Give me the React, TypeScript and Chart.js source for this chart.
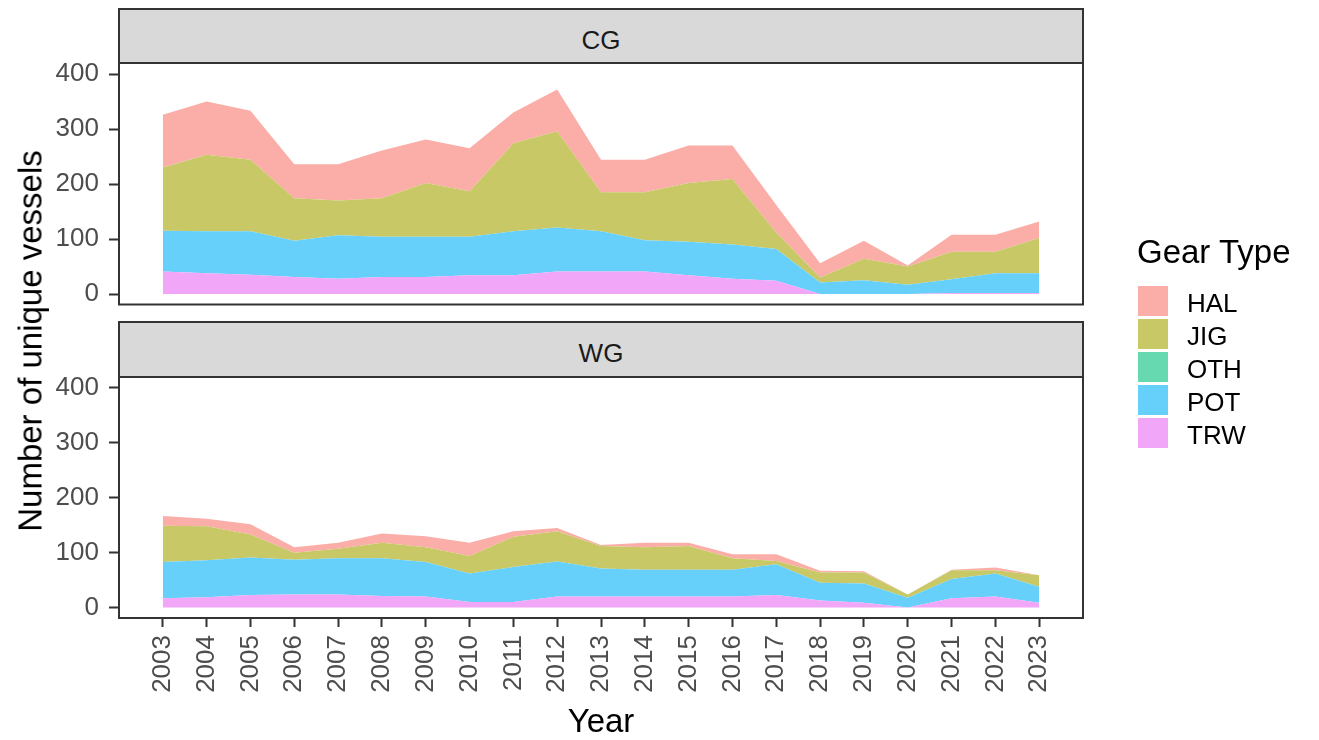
import React, { useEffect, useRef } from "react";
import { Chart, registerables } from "chart.js";

Chart.register(...registerables);

// ---------- data ----------
const years = [2003, 2004, 2005, 2006, 2007, 2008, 2009, 2010, 2011, 2012, 2013, 2014, 2015, 2016, 2017, 2018, 2019, 2020, 2021, 2022, 2023];
const yTicks = [0, 100, 200, 300, 400];

const gearTypes = ["HAL", "JIG", "OTH", "POT", "TRW"];
const gearColors = ["#FBADA7", "#C8C966", "#66D9B1", "#66D0FA", "#F1A6F8"];

// CG (Central Gulf)
const cgTRW = [41, 38, 35, 31, 28, 31, 31, 34, 34, 41, 41, 41, 34, 28, 24, 0, 0, 0, 2, 2, 2];
const cgPOT = [74, 76, 79, 66, 79, 73, 73, 70, 80, 80, 73, 57, 61, 62, 58, 21, 25, 17, 25, 36, 36];
const cgOTH = [0, 0, 0, 0, 0, 0, 0, 0, 0, 0, 0, 0, 0, 0, 0, 0, 0, 0, 0, 0, 0];
const cgJIG = [115, 139, 130, 77, 63, 70, 98, 83, 160, 175, 71, 87, 107, 119, 30, 9, 39, 33, 50, 39, 64];
const cgHAL = [96, 97, 89, 62, 66, 87, 79, 78, 56, 76, 59, 59, 68, 61, 50, 26, 33, 2, 31, 31, 30];

// WG (Western Gulf)
const wgTRW = [17, 19, 23, 24, 24, 21, 20, 10, 10, 20, 20, 20, 20, 20, 23, 13, 9, 0, 17, 20, 9];
const wgPOT = [66, 67, 68, 63, 66, 69, 63, 52, 64, 64, 51, 49, 49, 49, 56, 32, 35, 18, 35, 42, 29];
const wgOTH = [0, 0, 0, 0, 0, 0, 0, 0, 0, 0, 0, 0, 0, 0, 0, 0, 0, 0, 0, 0, 0];
const wgJIG = [66, 62, 42, 13, 17, 28, 27, 32, 55, 55, 41, 41, 43, 21, 6, 19, 20, 6, 16, 6, 21];
const wgHAL = [18, 14, 19, 10, 11, 17, 20, 24, 10, 6, 2, 8, 6, 7, 12, 3, 2, 0, 1, 5, 0];

const FONT = "'Liberation Sans', Arial, Helvetica, sans-serif";
const W = 1319;
const H = 740;
const PANEL_LEFT = 119;
const PANEL_RIGHT = 1083;

type SeriesMap = { [k: string]: number[] };

const panelBorder = {
  id: "panelBorder",
  afterDraw(chart: any) {
    const { ctx, chartArea: a } = chart;
    ctx.save();
    ctx.strokeStyle = "#333333";
    ctx.lineWidth = 2;
    ctx.strokeRect(a.left, a.top, a.right - a.left, a.bottom - a.top);
    ctx.restore();
  },
};

function Panel({ series, top, bottom, showX }: { series: SeriesMap; top: number; bottom: number; showX: boolean }) {
  const ref = useRef<HTMLCanvasElement | null>(null);
  useEffect(() => {
    if (!ref.current) return;
    // stack order: bottom first
    const order = ["TRW", "POT", "OTH", "JIG", "HAL"];
    const datasets = order.map((g, i) => ({
      label: g,
      data: series[g].map((v, j) => ({ x: years[j], y: v })),
      backgroundColor: gearColors[gearTypes.indexOf(g)],
      borderWidth: 0,
      pointRadius: 0,
      tension: 0,
      fill: i === 0 ? "origin" : "-1",
    }));
    const xAxisHeight = H - bottom;
    const chart = new Chart(ref.current, {
      type: "line",
      data: { datasets },
      plugins: [panelBorder],
      options: {
        animation: false,
        responsive: false,
        devicePixelRatio: 1,
        layout: {
          padding: { left: 0, top: top, right: W - PANEL_RIGHT, bottom: showX ? 0 : H - bottom },
        },
        plugins: { legend: { display: false }, tooltip: { enabled: false } },
        scales: {
          x: {
            type: "linear",
            min: 2002,
            max: 2024,
            display: showX,
            afterBuildTicks: (s: any) => {
              s.ticks = years.map((v) => ({ value: v }));
            },
            afterFit: (s: any) => {
              s.height = showX ? xAxisHeight : 0;
            },
            border: { display: false },
            grid: {
              display: true,
              drawOnChartArea: false,
              drawTicks: true,
              tickLength: 9,
              tickColor: "#333333",
              tickWidth: 2,
            },
            ticks: {
              autoSkip: false,
              minRotation: 90,
              maxRotation: 90,
              padding: 8,
              color: "#4D4D4D",
              font: { family: FONT, size: 26 },
              callback: (v: any) => String(v),
            },
          },
          y: {
            type: "linear",
            stacked: true,
            min: -19,
            max: 420,
            afterBuildTicks: (s: any) => {
              s.ticks = yTicks.map((v) => ({ value: v }));
            },
            afterFit: (s: any) => {
              s.width = PANEL_LEFT;
            },
            border: { display: false },
            grid: {
              display: true,
              drawOnChartArea: false,
              drawTicks: true,
              tickLength: 10,
              tickColor: "#333333",
              tickWidth: 2,
            },
            ticks: {
              padding: 10,
              color: "#4D4D4D",
              font: { family: FONT, size: 26 },
              callback: (v: any) => String(v),
            },
          },
        },
      } as any,
    });
    return () => chart.destroy();
  }, [series, top, bottom, showX]);
  return (
    <canvas
      ref={ref}
      width={W}
      height={H}
      style={{ position: "absolute", left: 0, top: 0, width: W, height: H }}
    />
  );
}

function Strip({ label, top, height, textTop }: { label: string; top: number; height: number; textTop: number }) {
  return (
    <>
      <div
        style={{
          position: "absolute",
          left: PANEL_LEFT - 1,
          top: top - 1,
          width: PANEL_RIGHT - PANEL_LEFT + 2,
          height: height + 2,
          boxSizing: "border-box",
          background: "#D9D9D9",
          border: "2px solid #333333",
        }}
      />
      <div
        style={{
          position: "absolute",
          left: PANEL_LEFT,
          width: PANEL_RIGHT - PANEL_LEFT,
          top: textTop,
          textAlign: "center",
          fontSize: 26,
          lineHeight: "26px",
          color: "#1A1A1A",
          whiteSpace: "nowrap",
        }}
      >
        {label}
      </div>
    </>
  );
}

const cgSeries: SeriesMap = { TRW: cgTRW, POT: cgPOT, OTH: cgOTH, JIG: cgJIG, HAL: cgHAL };
const wgSeries: SeriesMap = { TRW: wgTRW, POT: wgPOT, OTH: wgOTH, JIG: wgJIG, HAL: wgHAL };

export default function App() {
  return (
    <div
      style={{
        position: "fixed",
        left: 0,
        top: 0,
        width: W,
        height: H,
        background: "#FFFFFF",
        fontFamily: FONT,
        overflow: "hidden",
      }}
    >
      <Strip label="CG" top={9} height={54} textTop={27} />
      <Strip label="WG" top={322} height={55} textTop={340} />
      <Panel series={cgSeries} top={63} bottom={304.5} showX={false} />
      <Panel series={wgSeries} top={377} bottom={618} showX={true} />

      {/* y axis title */}
      <div
        style={{
          position: "absolute",
          left: 30,
          top: 340.5,
          width: 600,
          transform: "translate(-50%, -50%) rotate(-90deg)",
          textAlign: "center",
          fontSize: 33,
          lineHeight: "33px",
          color: "#000000",
          whiteSpace: "nowrap",
        }}
      >
        Number of unique vessels
      </div>

      {/* x axis title */}
      <div
        style={{
          position: "absolute",
          left: PANEL_LEFT,
          width: PANEL_RIGHT - PANEL_LEFT,
          top: 704,
          textAlign: "center",
          fontSize: 33,
          lineHeight: "33px",
          color: "#000000",
        }}
      >
        Year
      </div>

      {/* legend */}
      <div
        style={{
          position: "absolute",
          left: 1137,
          top: 235,
          fontSize: 33,
          lineHeight: "33px",
          color: "#000000",
          whiteSpace: "nowrap",
        }}
      >
        Gear Type
      </div>
      {gearTypes.map((g, i) => (
        <React.Fragment key={g}>
          <div
            style={{
              position: "absolute",
              left: 1138,
              top: 286 + i * 33,
              width: 30,
              height: 30,
              background: gearColors[i],
            }}
          />
          <div
            style={{
              position: "absolute",
              left: 1187,
              top: 290 + i * 33,
              fontSize: 26,
              lineHeight: "26px",
              color: "#000000",
              whiteSpace: "nowrap",
            }}
          >
            {g}
          </div>
        </React.Fragment>
      ))}
    </div>
  );
}
